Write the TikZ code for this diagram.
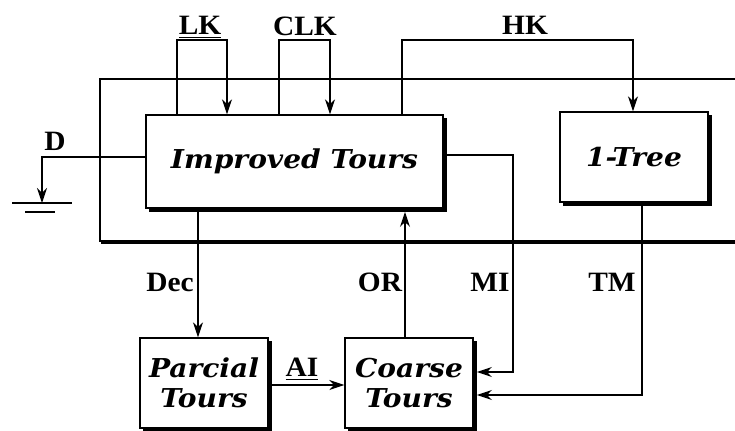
\documentclass[tikz,border=0pt]{standalone}
\usepackage{fontspec}
\setmainfont{Liberation Serif}
\newfontfamily\boxserif[FakeStretch=1.08]{DejaVu Serif}
\newfontfamily\lblserif[FakeStretch=1.05]{Liberation Serif}
\usetikzlibrary{arrows.meta}
\begin{document}
\begin{tikzpicture}[x=0.5pt,y=-0.5pt,line width=0.7pt,
  box/.style={draw,fill=white,inner sep=0pt,align=center,
    font=\boxserif\fontsize{13}{15}\selectfont\bfseries\itshape},
  shadowline/.style={line width=1.6pt},
  lbl/.style={inner sep=0pt,font=\lblserif\fontsize{14}{15}\selectfont\bfseries},
  arr/.style={-{Stealth[length=7.5pt,width=5pt]}}]
\useasboundingbox (0,0) rectangle (735,430);
% outer frame (open to the right)
\draw[line width=2.2pt] (101,242) -- (735,242);
\draw (735,79) -- (100,79) -- (100,241) -- (735,241);
% boxes
\node[box,minimum width=148.5pt,minimum height=46.5pt] (it) at (294.5,161.5) {Improved Tours};
\node[box,minimum width=74pt,minimum height=45pt] (tr) at (634,157) {1-Tree};
\node[box,minimum width=64pt,minimum height=45pt] (pt) at (204,383) {Parcial\\Tours};
\node[box,minimum width=64pt,minimum height=45pt] (ct) at (409,383) {Coarse\\Tours};
% shadows (right and bottom edges)
\foreach \bx in {it,tr,pt,ct}{
  \draw[shadowline] ([xshift=2pt,yshift=-0.9pt]\bx.south west) -- ([xshift=0.9pt,yshift=-0.9pt]\bx.south east) -- ([xshift=0.9pt,yshift=-2pt]\bx.north east);
}
% coordinates
\coordinate (lk1) at (177,40); \coordinate (lk2) at (227,40);
\coordinate (ck1) at (279,40); \coordinate (ck2) at (330,40);
\coordinate (hk1) at (402,40); \coordinate (hk2) at (633,40);
\coordinate (d1) at (42,157); \coordinate (gnd) at (42,203);
\coordinate (dec) at (198,300); \coordinate (or1) at (405,300);
\coordinate (mi1) at (513,155); \coordinate (mi2) at (513,372);
\coordinate (tm1) at (642,395); \coordinate (ai) at (300,385);
% connectors
\draw[arr] (it.north -| lk1) -- (lk1) -- (lk2) -- (it.north -| lk2);
\draw[arr] (it.north -| ck1) -- (ck1) -- (ck2) -- (it.north -| ck2);
\draw[arr] (it.north -| hk1) -- (hk1) -- (hk2) -- (tr.north -| hk2);
\draw[arr] (it.west |- d1) -- (d1) -- (gnd);
\draw (12,203) -- (72,203);
\draw (25,212) -- (55,212);
\draw[arr] ([yshift=-1.6pt]it.south -| dec) -- (pt.north -| dec);
\draw[arr] (ct.north -| or1) -- ([yshift=-1.6pt]it.south -| or1);
\draw[arr] ([xshift=1.6pt]mi1 -| it.east) -- (mi1) -- (mi2) -- ([xshift=1.6pt]mi2 -| ct.east);
\draw[arr] ([yshift=-1.6pt]tr.south -| tm1) -- (tm1) -- ([xshift=1.6pt]tm1 -| ct.east);
\draw[arr] ([xshift=1.6pt]pt.east |- ai) -- (ct.west |- ai);
% labels
\node[lbl] (lLK) at (200,27) {\underline{LK}};
\node[lbl] (lCLK) at (305,26) {CLK};
\node[lbl] (lHK) at (525,25) {HK};
\node[lbl] (lD) at (55,141) {D};
\node[lbl] (lDec) at (170,282) {Dec};
\node[lbl] (lOR) at (380,282) {OR};
\node[lbl] (lMI) at (490,282) {MI};
\node[lbl] (lTM) at (612,282) {TM};
\node[lbl] (lAI) at (302,369) {\underline{AI}};
\end{tikzpicture}
\end{document}
